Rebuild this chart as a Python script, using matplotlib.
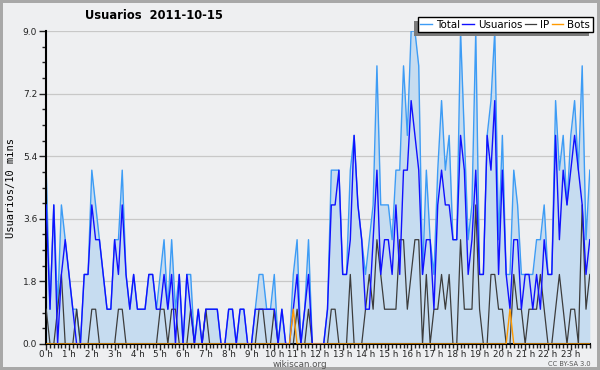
import matplotlib
matplotlib.use("Agg")
import matplotlib.pyplot as plt
from matplotlib.patches import Rectangle
import numpy as np

# 10-minute slots for 2011-10-15
total = [5, 1, 4, 1, 4, 3, 2, 1, 1, 0, 2, 2,
         5, 4, 3, 2, 1, 1, 3, 3, 5, 2, 1, 2,
         1, 1, 1, 2, 2, 1, 2, 3, 1, 3, 1, 2,
         0, 2, 2, 0, 1, 0, 1, 1, 1, 1, 0, 0,
         1, 1, 0, 1, 1, 0, 0, 1, 2, 2, 1, 1,
         2, 0, 1, 0, 0, 2, 3, 0, 1, 3, 0, 0,
         0, 0, 1, 5, 5, 5, 2, 2, 5, 6, 4, 3,
         2, 3, 4, 8, 4, 4, 4, 3, 5, 5, 8, 6,
         9, 9, 8, 2, 5, 3, 2, 5, 7, 5, 6, 3,
         3, 9, 6, 3, 4, 9, 2, 2, 6, 7, 9, 3,
         6, 2, 2, 5, 4, 2, 2, 2, 2, 3, 3, 4,
         2, 2, 7, 5, 6, 4, 6, 7, 5, 8, 3, 5]
usuarios = [4, 1, 4, 0, 2, 3, 2, 1, 0, 0, 2, 2,
            4, 3, 3, 2, 1, 1, 3, 2, 4, 2, 1, 2,
            1, 1, 1, 2, 2, 1, 1, 2, 1, 2, 0, 2,
            0, 2, 1, 0, 1, 0, 1, 1, 1, 1, 0, 0,
            1, 1, 0, 1, 1, 0, 0, 1, 1, 1, 1, 1,
            1, 0, 1, 0, 0, 1, 2, 0, 1, 2, 0, 0,
            0, 0, 1, 4, 4, 5, 2, 2, 3, 6, 4, 3,
            1, 1, 3, 5, 2, 3, 3, 2, 4, 2, 5, 5,
            7, 6, 5, 2, 3, 3, 1, 4, 5, 4, 4, 3,
            3, 6, 5, 2, 3, 5, 2, 2, 6, 5, 7, 2,
            5, 2, 1, 3, 3, 1, 2, 2, 1, 2, 1, 3,
            2, 2, 6, 3, 5, 4, 5, 6, 5, 4, 2, 3]
ip = [1, 0, 0, 1, 2, 0, 0, 0, 1, 0, 0, 0,
      1, 1, 0, 0, 0, 0, 0, 1, 1, 0, 0, 0,
      0, 0, 0, 0, 0, 0, 1, 1, 0, 1, 1, 0,
      0, 0, 1, 0, 0, 0, 1, 0, 0, 0, 0, 0,
      0, 0, 0, 0, 0, 0, 0, 0, 1, 1, 0, 0,
      1, 0, 0, 0, 0, 0, 1, 0, 0, 1, 0, 0,
      0, 0, 0, 1, 1, 0, 0, 0, 2, 0, 0, 0,
      1, 2, 1, 3, 2, 1, 1, 1, 1, 3, 3, 1,
      2, 3, 3, 0, 2, 0, 1, 1, 2, 1, 2, 0,
      0, 3, 1, 1, 1, 4, 1, 0, 0, 2, 2, 1,
      1, 0, 0, 2, 1, 1, 0, 1, 1, 1, 2, 1,
      0, 0, 1, 2, 1, 0, 1, 1, 0, 4, 1, 2]
bots = [0] * 65 + [1] + [0] * 56 + [1] + [0] * 21
hour_labels = [f"{h} h" for h in range(24)]

BG = "#eeeff1"

fig = plt.figure(figsize=(6.0, 3.7), dpi=100, facecolor=BG)
fig.patch.set_edgecolor("#a8a8a8")
fig.patch.set_linewidth(3)
ax = fig.add_axes([0.077, 0.0703, 0.906, 0.8457], facecolor=BG)

x = np.arange(len(total))
ax.fill_between(x, total, color="#c6dcf0", linewidth=0, zorder=1)
ax.plot(x, total, color="#3d9cf5", lw=1.0, label="Total", zorder=2)
ax.plot(x, ip, color="#3c3c3c", lw=0.9, label="IP", zorder=3)
ax.plot(x, usuarios, color="#1010ff", lw=1.0, label="Usuarios", zorder=4)
ax.plot(x, bots, color="#ff9a00", lw=1.0, label="Bots", zorder=5)

ax.set_xlim(0, 143)
ax.set_ylim(0, 9)
ax.set_yticks(np.arange(0, 9.01, 1.8))
ax.set_yticks(np.arange(0, 9.01, 0.45), minor=True)
ax.set_yticklabels([f"{v:.1f}" for v in np.arange(0, 9.01, 1.8)])
ax.set_xticks(np.arange(0, 144, 6))
ax.set_xticklabels(hour_labels)
ax.set_xticks(np.arange(0, 144, 1), minor=True)

ax.tick_params(axis="both", which="major", labelsize=6.5, colors="#222222",
               width=1, length=5, pad=1.5)
ax.tick_params(axis="both", which="minor", width=1, length=3, color="#222222")
ax.tick_params(axis="x", which="major", length=4, pad=0.5, labelsize=6.3)

ax.grid(axis="y", which="major", color="#c8c8c8", lw=0.9, zorder=0)
ax.set_axisbelow(True)
for side in ("top", "right"):
    ax.spines[side].set_visible(False)
for side in ("left", "bottom"):
    ax.spines[side].set_linewidth(1.5)
    ax.spines[side].set_color("black")

ax.set_ylabel("Usuarios/10 mins", family="DejaVu Sans Mono", fontsize=7.5,
              labelpad=5)

fig.text(0.142, 0.957, "Usuarios  2011-10-15", fontsize=8.3, weight="bold",
         ha="left", va="center")
fig.text(0.5, 0.014, "wikiscan.org", fontsize=6.3, color="#555555",
         ha="center", va="center")
fig.text(0.985, 0.016, "CC BY-SA 3.0", fontsize=4.8, color="#555555",
         ha="right", va="center")

handles, labels = ax.get_legend_handles_labels()
order = [labels.index(n) for n in ("Total", "Usuarios", "IP", "Bots")]
leg = fig.legend([handles[i] for i in order], [labels[i] for i in order],
                 loc="upper right", bbox_to_anchor=(0.988, 0.954),
                 ncol=4, fontsize=7.4, frameon=True, fancybox=False,
                 framealpha=1, edgecolor="black", borderpad=0.25,
                 handlelength=1.1, handletextpad=0.4, columnspacing=0.25,
                 borderaxespad=0)
leg.get_frame().set_linewidth(1.0)
leg.set_zorder(5)

# grey drop shadow offset to the lower left of the legend box
fig.canvas.draw()
bb = leg.get_window_extent()
W, H = fig.get_size_inches() * fig.dpi
fig.patches.append(Rectangle(((bb.x0 - 4) / W, (bb.y0 - 4) / H),
                             bb.width / W, bb.height / H,
                             transform=fig.transFigure, facecolor="#7a7a7a",
                             edgecolor="none", zorder=4))

fig.savefig("out.png", dpi=100, facecolor=BG, edgecolor=fig.patch.get_edgecolor())
